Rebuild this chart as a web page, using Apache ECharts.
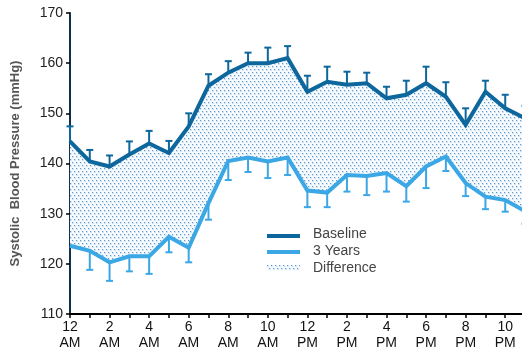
<!DOCTYPE html>
<html>
<head>
<meta charset="utf-8">
<script src="https://cdn.jsdelivr.net/npm/echarts@6/dist/echarts.min.js"></script>
<style>
  html, body { margin: 0; padding: 0; background: #fff; }
  #chart { width: 522px; height: 352px; }
</style>
</head>
<body>
<div id="chart"></div>
<script>
  // one point per hour, 12 AM .. 11 PM
  const hourLabels = ['12\nAM', '', '2\nAM', '', '4\nAM', '', '6\nAM', '', '8\nAM', '', '10\nAM', '',
                      '12\nPM', '', '2\nPM', '', '4\nPM', '', '6\nPM', '', '8\nPM', '', '10\nPM', ''];
  const baseline = [144.4, 140.4, 139.4, 141.8, 144.0, 142.1, 147.4, 155.5, 158.1, 160.0, 160.0, 161.0,
                    154.3, 156.3, 155.7, 156.0, 153.0, 153.7, 156.0, 153.3, 147.7, 154.3, 151.0, 149.0];
  const baselineErr = [3.0, 2.3, 2.2, 2.6, 2.5, 2.4, 2.6, 2.3, 2.3, 2.1, 3.1, 2.4,
                       3.2, 3.0, 2.6, 2.1, 2.3, 2.8, 3.3, 2.9, 3.3, 2.2, 2.7, 2.5];
  const threeYears = [123.6, 122.6, 120.3, 121.5, 121.5, 125.4, 123.2, 132.1, 140.5, 141.2, 140.4, 141.2,
                      134.6, 134.2, 137.7, 137.5, 138.1, 135.5, 139.4, 141.4, 136.1, 133.4, 132.7, 130.5];
  const threeYearsErr = [0, 3.8, 3.7, 3.0, 3.5, 3.1, 2.9, 3.3, 3.8, 2.9, 3.3, 3.5,
                         3.3, 2.9, 3.3, 3.8, 3.7, 3.1, 4.3, 2.9, 2.6, 2.5, 2.3, 2.5];
  const yTicks = [110, 120, 130, 140, 150, 160, 170];

  const baseColor = '#0d679c';
  const yearColor = '#3ba7e5';
  const font = 'Liberation Sans, Arial, sans-serif';

  // dotted fill for the "Difference" band
  const tile = document.createElement('canvas');
  tile.width = 4;
  tile.height = 6;
  const tc = tile.getContext('2d');
  tc.fillStyle = '#f5fbfe';
  tc.fillRect(0, 0, 4, 6);
  tc.fillStyle = '#d3e5f3';
  tc.fillRect(0, 0, 2, 2);
  tc.fillRect(2, 3, 2, 2);
  tc.fillStyle = '#6696c8';
  tc.fillRect(0, 0, 1, 1);
  tc.fillRect(2, 3, 1, 1);
  const dotFill = { image: tile, repeat: 'repeat' };

  const diff = baseline.map((v, i) => +(v - threeYears[i]).toFixed(2));

  function errorBars(values, errs, dir, color) {
    return {
      type: 'custom',
      z: 3,
      data: values.map((v, i) => [i, v, errs[i]]),
      renderItem: function (params, api) {
        const i = api.value(0), v = api.value(1), e = api.value(2);
        if (!e) return null;
        const p0 = api.coord([i, v]);
        const p1 = api.coord([i, v + dir * e]);
        return {
          type: 'group',
          children: [
            { type: 'line', shape: { x1: p0[0], y1: p0[1], x2: p1[0], y2: p1[1] },
              style: { stroke: color, lineWidth: 2 } },
            { type: 'line', shape: { x1: p1[0] - 3.5, y1: p1[1], x2: p1[0] + 3.5, y2: p1[1] },
              style: { stroke: color, lineWidth: 2 } }
          ]
        };
      }
    };
  }

  const chart = echarts.init(document.getElementById('chart'));
  chart.setOption({
    animation: false,
    grid: { left: 70, right: -3, top: 13, bottom: 38, outerBoundsMode: 'none', containLabel: false },
    xAxis: {
      type: 'category',
      data: hourLabels,
      boundaryGap: false,
      axisLine: { lineStyle: { color: '#000', width: 2 } },
      axisTick: { show: true, interval: 0, length: 4, lineStyle: { color: '#000', width: 1.5 } },
      axisLabel: {
        interval: 0,
        margin: 5,
        color: '#111',
        fontSize: 14,
        lineHeight: 16,
        fontFamily: font
      }
    },
    yAxis: {
      type: 'value',
      min: yTicks[0],
      max: yTicks[yTicks.length - 1],
      interval: 10,
      name: 'Systolic  Blood Pressure (mmHg)',
      nameLocation: 'middle',
      nameGap: 48,
      nameTextStyle: { color: '#555', fontSize: 13, fontWeight: 'bold', fontFamily: font },
      splitLine: { show: false },
      axisLine: { show: true, lineStyle: { color: '#10304f', width: 2 } },
      axisTick: { show: true, length: 4, lineStyle: { color: '#000', width: 1.5 } },
      axisLabel: { color: '#222', fontSize: 14, margin: 7, fontFamily: font }
    },
    series: [
      {
        name: 'lower', type: 'line', stack: 'band', data: threeYears,
        symbol: 'none', lineStyle: { opacity: 0 }, silent: true, z: 1
      },
      {
        name: 'Difference', type: 'line', stack: 'band', data: diff,
        symbol: 'none', lineStyle: { opacity: 0 }, areaStyle: { color: dotFill, opacity: 1 }, z: 1
      },
      errorBars(baseline, baselineErr, 1, baseColor),
      errorBars(threeYears, threeYearsErr, -1, yearColor),
      {
        name: 'Baseline', type: 'line', data: baseline, symbol: 'none', z: 4,
        lineStyle: { color: baseColor, width: 4, join: 'miter' }
      },
      {
        name: '3 Years', type: 'line', data: threeYears, symbol: 'none', z: 4,
        lineStyle: { color: yearColor, width: 4, join: 'miter' }
      }
    ],
    graphic: [
      { type: 'rect', left: 267, top: 234, shape: { width: 33, height: 4 }, style: { fill: baseColor } },
      { type: 'rect', left: 267, top: 250, shape: { width: 33, height: 4 }, style: { fill: yearColor } },
      { type: 'rect', left: 267, top: 265, shape: { width: 33, height: 6 }, style: { fill: dotFill } },
      { type: 'text', left: 313, top: 227, style: { text: 'Baseline', fill: '#444', fontSize: 14, fontFamily: font } },
      { type: 'text', left: 313, top: 244, style: { text: '3 Years', fill: '#444', fontSize: 14, fontFamily: font } },
      { type: 'text', left: 313, top: 261, style: { text: 'Difference', fill: '#444', fontSize: 14, fontFamily: font } }
    ]
  });
</script>
</body>
</html>
